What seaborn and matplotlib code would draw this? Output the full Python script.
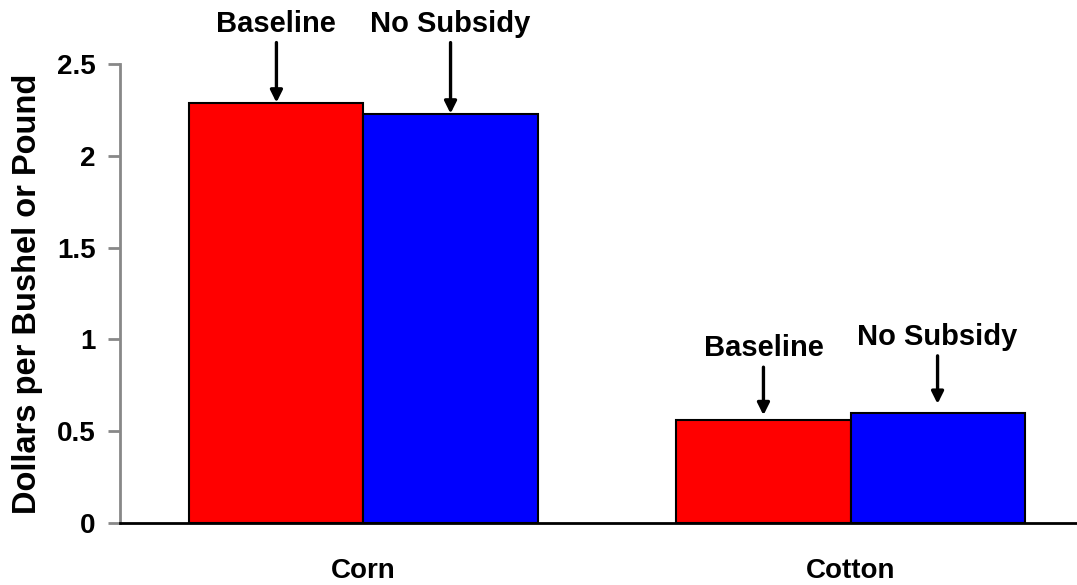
import matplotlib
matplotlib.use('Agg')
import matplotlib.pyplot as plt
import seaborn as sns
import pandas as pd

# chart values
crops = ['Corn', 'Cotton']
scenarios = ['Baseline', 'No Subsidy']
baseline = [2.29, 0.56]
no_subsidy = [2.23, 0.60]
y_ticks = [0, 0.5, 1, 1.5, 2, 2.5]
y_tick_labels = ['0', '0.5', '1', '1.5', '2', '2.5']

df = pd.DataFrame({
    'Crop': crops * 2,
    'Scenario': [scenarios[0]] * 2 + [scenarios[1]] * 2,
    'Price': baseline + no_subsidy,
})

sns.set_style('white')
plt.rcParams['font.family'] = ['Liberation Sans', 'DejaVu Sans']
plt.rcParams['font.weight'] = 'bold'
plt.rcParams['text.color'] = 'black'
plt.rcParams['xtick.labelcolor'] = 'black'
plt.rcParams['ytick.labelcolor'] = 'black'
plt.rcParams['axes.labelcolor'] = 'black'

fig = plt.figure(figsize=(10.77, 5.85), dpi=100)
ax = fig.add_axes([0.1114, 0.106, 0.9044, 0.7846])

sns.barplot(data=df, x='Crop', y='Price', hue='Scenario', order=crops,
            hue_order=scenarios, palette=['#ff0000', '#0000ff'],
            width=0.715, gap=0, edgecolor='black', linewidth=1.5,
            saturation=1, legend=False, ax=ax)

ax.set_xlim(-0.5, 1.5)
ax.set_ylim(0, 2.5)
ax.set_yticks(y_ticks)
ax.set_yticklabels(y_tick_labels, fontsize=20, fontweight='bold')
ax.set_xticks([0, 1])
ax.set_xticklabels(crops, fontsize=20, fontweight='bold')
ax.set_xticks([0.5], minor=True)
ax.tick_params(axis='x', which='major', length=0, pad=25)
ax.tick_params(axis='x', which='minor', length=7, width=2, color='#888888', direction='out')
ax.tick_params(axis='y', length=8.5, width=2, color='#888888', pad=9, direction='out', left=True)
ax.set_xlabel('')
ax.set_ylabel('Dollars per Bushel or Pound', fontsize=23.5, fontweight='bold', labelpad=10)

for side in ['top', 'right']:
    ax.spines[side].set_visible(False)
ax.spines['left'].set_color('#888888')
ax.spines['left'].set_linewidth(2)
ax.spines['bottom'].set_color('black')
ax.spines['bottom'].set_linewidth(2)

# label offsets above bar tops (px) and arrow tip gaps (px), per patch order
text_offsets = [79, 72, 90, 76]
tip_gaps = [0, 5, 0, 9]
labels = ['Baseline', 'Baseline', 'No Subsidy', 'No Subsidy']
px = 0.72
for i, bar in enumerate(ax.patches[:4]):
    xc = bar.get_x() + bar.get_width() / 2
    top = bar.get_height()
    ax.annotate(labels[i], xy=(xc, top), xytext=(0, text_offsets[i] * px),
                textcoords='offset points', ha='center', va='center',
                fontsize=21, fontweight='bold', annotation_clip=False)
    ax.annotate('', xy=(xc, top), xytext=(0, (text_offsets[i] - 19) * px),
                textcoords='offset points', annotation_clip=False,
                arrowprops=dict(arrowstyle='-|>', color='black', lw=2.4,
                                mutation_scale=18, shrinkA=0,
                                shrinkB=tip_gaps[i] * px))

fig.savefig('out.png', dpi=100)
